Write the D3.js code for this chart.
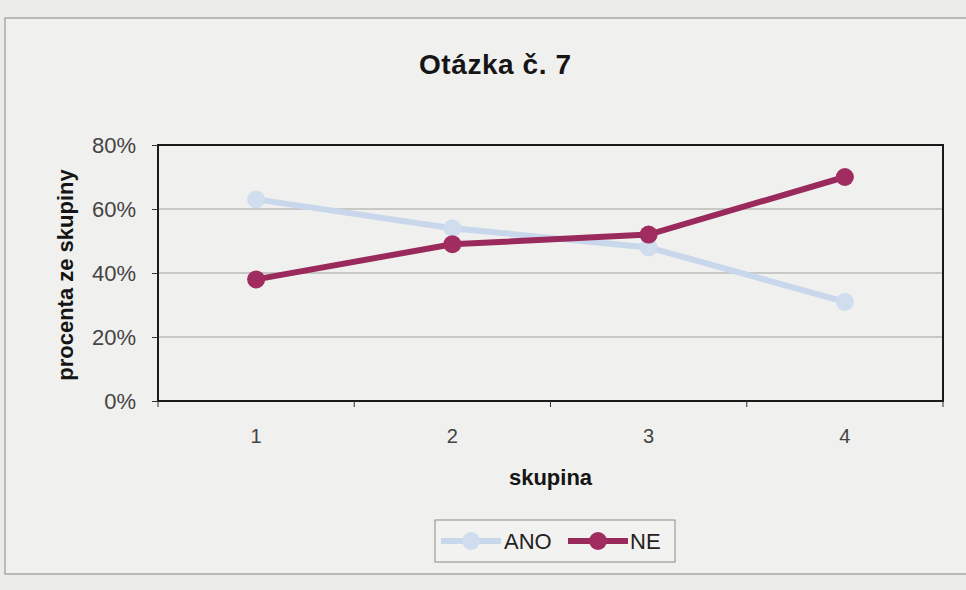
<!DOCTYPE html>
<html>
<head>
<meta charset="utf-8">
<script src="https://cdn.jsdelivr.net/npm/d3@7"></script>
<style>
  body { margin: 0; background: #ececea; }
  svg { display: block; font-family: "Liberation Sans", Arial, sans-serif; }
</style>
</head>
<body>
<svg id="chart" width="966" height="590"></svg>
<script>
// chart data
const groups = ['1', '2', '3', '4'];
const anoValues = [63, 54, 48, 31];
const neValues = [38, 49, 52, 70];
const yTicks = [0, 20, 40, 60, 80];

const series = [
  { name: 'ANO', values: anoValues, color: '#c8d7eb', marker: '#d0ddef' },
  { name: 'NE', values: neValues, color: '#9a2a5c', marker: '#a02c60' },
];

const width = 966;
const height = 590;
const margin = { top: 145, right: 23, bottom: 189, left: 158 };
const plotW = width - margin.left - margin.right;
const plotH = height - margin.bottom - margin.top;
const plotMid = margin.left + plotW / 2;

const svg = d3.select('#chart');

// outer chart frame
svg.append('rect')
  .attr('x', 5).attr('y', 18)
  .attr('width', width + 10).attr('height', 556)
  .attr('fill', '#f0f0ee')
  .attr('stroke', '#a8a8a8').attr('stroke-width', 1.5);

svg.append('text')
  .attr('x', 495).attr('y', 74)
  .attr('text-anchor', 'middle')
  .attr('font-size', 28).attr('font-weight', 'bold')
  .attr('textLength', 152)
  .attr('fill', '#151515')
  .text('Otázka č. 7');

const x = d3.scaleBand()
  .domain(groups)
  .range([margin.left, width - margin.right]);

const y = d3.scaleLinear()
  .domain([0, 80])
  .range([height - margin.bottom, margin.top]);

// gridlines
svg.append('g')
  .selectAll('line')
  .data(yTicks.slice(1, -1))
  .join('line')
  .attr('x1', margin.left).attr('x2', width - margin.right)
  .attr('y1', (d) => y(d)).attr('y2', (d) => y(d))
  .attr('stroke', '#a0a0a0').attr('stroke-width', 1);

// plot frame
svg.append('rect')
  .attr('x', margin.left).attr('y', margin.top)
  .attr('width', plotW).attr('height', plotH)
  .attr('fill', 'none')
  .attr('stroke', '#1a1a1a').attr('stroke-width', 2);

// y axis
const yAxis = svg.append('g')
  .attr('transform', `translate(${margin.left},0)`)
  .call(d3.axisLeft(y).tickValues(yTicks).tickFormat((d) => d + '%').tickSize(6).tickPadding(16));
yAxis.select('.domain').remove();
yAxis.selectAll('line').attr('stroke', '#333');
yAxis.selectAll('text')
  .attr('font-size', 22).attr('fill', '#444')
  .attr('font-family', '"Liberation Sans", Arial, sans-serif');

// x axis, ticks sit between the groups
const xAxis = svg.append('g')
  .attr('transform', `translate(0,${height - margin.bottom})`);
xAxis.selectAll('line')
  .data(groups.map((g) => x(g)).concat([x(groups[groups.length - 1]) + x.bandwidth()]))
  .join('line')
  .attr('x1', (d) => d).attr('x2', (d) => d)
  .attr('y1', 0).attr('y2', 6)
  .attr('stroke', '#333');
xAxis.selectAll('text')
  .data(groups)
  .join('text')
  .attr('x', (d) => x(d) + x.bandwidth() / 2)
  .attr('y', 42)
  .attr('text-anchor', 'middle')
  .attr('font-size', 20).attr('fill', '#444')
  .text((d) => d);

svg.append('text')
  .attr('x', plotMid).attr('y', 485)
  .attr('text-anchor', 'middle')
  .attr('font-size', 22).attr('font-weight', 'bold')
  .attr('fill', '#151515')
  .text('skupina');

svg.append('text')
  .attr('transform', `translate(73,${margin.top + plotH / 2 + 2}) rotate(-90)`)
  .attr('text-anchor', 'middle')
  .attr('font-size', 22).attr('font-weight', 'bold')
  .attr('fill', '#151515')
  .text('procenta ze skupiny');

// lines and markers
const line = d3.line()
  .x((d, i) => x(groups[i]) + x.bandwidth() / 2)
  .y((d) => y(d));

series.forEach((s) => {
  const g = svg.append('g');
  g.append('path')
    .attr('d', line(s.values))
    .attr('fill', 'none')
    .attr('stroke', s.color)
    .attr('stroke-width', 6);
  g.selectAll('circle')
    .data(s.values)
    .join('circle')
    .attr('cx', (d, i) => x(groups[i]) + x.bandwidth() / 2)
    .attr('cy', (d) => y(d))
    .attr('r', 9)
    .attr('fill', s.marker);
});

// legend
const legend = svg.append('g');
legend.append('rect')
  .attr('x', 435).attr('y', 520)
  .attr('width', 240).attr('height', 42)
  .attr('fill', '#f2f2f0')
  .attr('stroke', '#8a8a8a');

const legendItems = [
  { s: series[0], x0: 441, tx: 504 },
  { s: series[1], x0: 568, tx: 630 },
];
legendItems.forEach(({ s, x0, tx }) => {
  legend.append('line')
    .attr('x1', x0).attr('x2', x0 + 60)
    .attr('y1', 541).attr('y2', 541)
    .attr('stroke', s.color).attr('stroke-width', 6);
  legend.append('circle')
    .attr('cx', x0 + 30).attr('cy', 541).attr('r', 9)
    .attr('fill', s.marker);
  legend.append('text')
    .attr('x', tx).attr('y', 549)
    .attr('font-size', 22).attr('fill', '#222')
    .text(s.name);
});
</script>
</body>
</html>
